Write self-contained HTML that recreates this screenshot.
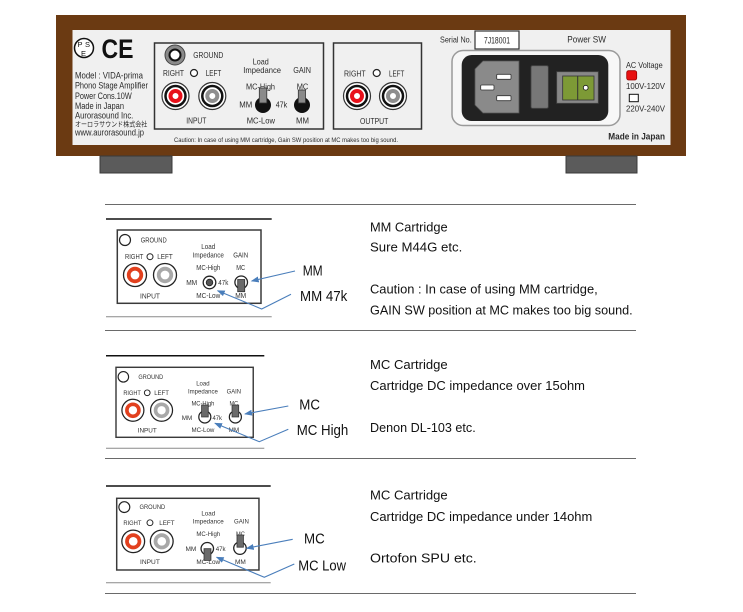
<!DOCTYPE html>
<html><head><meta charset="utf-8">
<style>
html,body{margin:0;padding:0;background:#fff;}
svg{display:block;}
text{font-family:"Liberation Sans","Noto Sans CJK JP",sans-serif;}
</style></head><body>
<svg width="743" height="612" viewBox="0 0 743 612" xmlns="http://www.w3.org/2000/svg">
<defs>
<marker id="ah" markerWidth="8" markerHeight="6" refX="7" refY="3" orient="auto" markerUnits="userSpaceOnUse">
<path d="M0,0 L8,3 L0,6 Z" fill="#4a7ebb"/>
</marker>
</defs>
<rect width="743" height="612" fill="#fff"/>

<!-- ===== DEVICE REAR PANEL ===== -->
<rect x="56" y="15" width="630" height="141" fill="#6b3a12"/>
<rect x="72.5" y="30" width="598" height="115" fill="#f0f0f0"/>
<rect x="100" y="156" width="72" height="17" fill="#5b5b5b" stroke="#3a3a3a"/>
<rect x="566" y="156" width="71" height="17" fill="#5b5b5b" stroke="#3a3a3a"/>

<!-- PSE / CE -->
<circle cx="84" cy="48" r="9.5" fill="#fff" stroke="#111" stroke-width="1.5"/>
<text x="77.5" y="47" font-size="7.5" fill="#111">P</text>
<text x="85" y="47" font-size="7.5" fill="#111">S</text>
<text x="81" y="56" font-size="7.5" fill="#111">E</text>
<text x="101.5" y="58" font-size="27" font-weight="bold" textLength="32" lengthAdjust="spacingAndGlyphs" fill="#111">CE</text>

<g fill="#2a2a2a" font-size="9">
<text x="75" y="78.5" textLength="68" lengthAdjust="spacingAndGlyphs">Model : VIDA-prima</text>
<text x="75" y="88.5" textLength="73" lengthAdjust="spacingAndGlyphs">Phono Stage Amplifier</text>
<text x="75" y="99" textLength="56.7" lengthAdjust="spacingAndGlyphs">Power Cons.10W</text>
<text x="75" y="109" textLength="49" lengthAdjust="spacingAndGlyphs">Made in Japan</text>
<text x="75" y="118.5" textLength="58.3" lengthAdjust="spacingAndGlyphs">Aurorasound Inc.</text>
<text x="75" y="126.5" font-size="7" textLength="72.3" lengthAdjust="spacingAndGlyphs">オーロラサウンド株式会社</text>
<text x="75" y="135.5" textLength="69" lengthAdjust="spacingAndGlyphs">www.aurorasound.jp</text>
</g>

<!-- INPUT box -->
<rect x="154.5" y="43" width="169" height="86" fill="none" stroke="#333" stroke-width="1.5"/>
<circle cx="175" cy="55" r="10" fill="#8a8a8a" stroke="#444" stroke-width="1"/>
<circle cx="175" cy="55" r="5.5" fill="#fff" stroke="#111" stroke-width="2"/>
<g fill="#2a2a2a" font-size="8.5">
<text x="193.3" y="58" textLength="30" lengthAdjust="spacingAndGlyphs">GROUND</text>
<text x="163" y="76" textLength="21" lengthAdjust="spacingAndGlyphs">RIGHT</text>
<text x="205.7" y="76" textLength="15.5" lengthAdjust="spacingAndGlyphs">LEFT</text>
<text x="196.3" y="123.5" text-anchor="middle" textLength="20" lengthAdjust="spacingAndGlyphs">INPUT</text>
<text x="260.8" y="64.5" text-anchor="middle" textLength="16" lengthAdjust="spacingAndGlyphs">Load</text>
<text x="243.3" y="73" textLength="37.7" lengthAdjust="spacingAndGlyphs">Impedance</text>
<text x="293.3" y="73" textLength="17.7" lengthAdjust="spacingAndGlyphs">GAIN</text>
<text x="246" y="89.7" textLength="29" lengthAdjust="spacingAndGlyphs">MC-High</text>
<text x="296.7" y="89.7" textLength="11.6" lengthAdjust="spacingAndGlyphs">MC</text>
<text x="239.3" y="107.5" textLength="13" lengthAdjust="spacingAndGlyphs">MM</text>
<text x="275.7" y="107.5" textLength="11.6" lengthAdjust="spacingAndGlyphs">47k</text>
<text x="246.7" y="123.5" textLength="28.3" lengthAdjust="spacingAndGlyphs">MC-Low</text>
<text x="296" y="123.5" textLength="13" lengthAdjust="spacingAndGlyphs">MM</text>
</g>
<circle cx="194" cy="73" r="3.5" fill="#fff" stroke="#222" stroke-width="1.2"/>
<!-- input jacks -->
<circle cx="175.5" cy="96" r="13.5" fill="#fff" stroke="#333" stroke-width="1.2"/>
<circle cx="175.5" cy="96" r="10" fill="#fff" stroke="#111" stroke-width="2.5"/>
<circle cx="175.5" cy="96" r="5" fill="#fff" stroke="#e8101a" stroke-width="4"/>
<circle cx="212.3" cy="96" r="13.5" fill="#fff" stroke="#333" stroke-width="1.2"/>
<circle cx="212.3" cy="96" r="10" fill="#fff" stroke="#111" stroke-width="2.5"/>
<circle cx="212.3" cy="96" r="5" fill="#fff" stroke="#8e8e8e" stroke-width="4"/>
<!-- knobs -->
<circle cx="263" cy="105" r="8" fill="#111"/>
<rect x="259.3" y="88" width="7.5" height="15" fill="#8a8a8a" stroke="#333" stroke-width="0.8"/>
<circle cx="302" cy="105" r="8" fill="#111"/>
<rect x="298.3" y="90" width="7.2" height="13" fill="#8a8a8a" stroke="#333" stroke-width="0.8"/>

<!-- OUTPUT box -->
<rect x="333.5" y="43" width="88" height="86" fill="none" stroke="#333" stroke-width="1.5"/>
<g fill="#2a2a2a" font-size="8.5">
<text x="344" y="76.3" textLength="21.7" lengthAdjust="spacingAndGlyphs">RIGHT</text>
<text x="389" y="76.3" textLength="15.3" lengthAdjust="spacingAndGlyphs">LEFT</text>
<text x="374.2" y="124" text-anchor="middle" textLength="28.3" lengthAdjust="spacingAndGlyphs">OUTPUT</text>
</g>
<circle cx="376.7" cy="73" r="3.5" fill="#fff" stroke="#222" stroke-width="1.2"/>
<circle cx="357" cy="96" r="13.5" fill="#fff" stroke="#333" stroke-width="1.2"/>
<circle cx="357" cy="96" r="10" fill="#fff" stroke="#111" stroke-width="2.5"/>
<circle cx="357" cy="96" r="5" fill="#fff" stroke="#e8101a" stroke-width="4"/>
<circle cx="393" cy="96" r="13.5" fill="#fff" stroke="#333" stroke-width="1.2"/>
<circle cx="393" cy="96" r="10" fill="#fff" stroke="#111" stroke-width="2.5"/>
<circle cx="393" cy="96" r="5" fill="#fff" stroke="#8e8e8e" stroke-width="4"/>

<text x="174" y="142" font-size="6" fill="#2a2a2a" textLength="224" lengthAdjust="spacingAndGlyphs">Caution: In case of using MM cartridge, Gain SW position at MC makes too big sound.</text>

<!-- serial / power -->
<text x="440" y="42.5" font-size="8.5" fill="#2a2a2a" textLength="31.7" lengthAdjust="spacingAndGlyphs">Serial No.</text>
<rect x="475" y="31" width="44" height="18" fill="#fff" stroke="#333" stroke-width="1.2"/>
<text x="497" y="43.5" font-size="9" fill="#2a2a2a" text-anchor="middle" textLength="26" lengthAdjust="spacingAndGlyphs">7J18001</text>
<text x="567.3" y="42.5" font-size="9" fill="#2a2a2a" textLength="38.7" lengthAdjust="spacingAndGlyphs">Power SW</text>

<rect x="452" y="50.5" width="168" height="75" rx="11" fill="#f7f7f7" stroke="#9a9a9a" stroke-width="1.5"/>
<rect x="461.7" y="55" width="146.6" height="66" rx="10" fill="#222"/>
<polygon points="483,61 519,61 519,113 483,113 475,105 475,69" fill="#8a8a8a" stroke="#555" stroke-width="0.8"/>
<rect x="496.7" y="74.3" width="14.3" height="5" rx="1" fill="#fff" stroke="#333" stroke-width="0.8"/>
<rect x="480.7" y="85" width="13.3" height="5" rx="1" fill="#fff" stroke="#333" stroke-width="0.8"/>
<rect x="496.7" y="95.7" width="14.3" height="5" rx="1" fill="#fff" stroke="#333" stroke-width="0.8"/>
<rect x="531" y="65.7" width="17.3" height="42.6" rx="1.5" fill="#777" stroke="#444" stroke-width="0.8"/>
<rect x="556.7" y="71.7" width="41.6" height="31.6" fill="#888" stroke="#444" stroke-width="0.8"/>
<rect x="562.7" y="76" width="31.3" height="24" fill="#7d9a36" stroke="#333" stroke-width="0.8"/>
<line x1="577.7" y1="76" x2="577.7" y2="100" stroke="#333" stroke-width="1"/>
<circle cx="585.7" cy="87.7" r="2.4" fill="#fff" stroke="#111" stroke-width="0.8"/>

<text x="626" y="68" font-size="8.5" fill="#2a2a2a" textLength="36.7" lengthAdjust="spacingAndGlyphs">AC Voltage</text>
<rect x="626.7" y="70.7" width="10" height="9.3" rx="2" fill="#e81010" stroke="#900" stroke-width="0.8"/>
<text x="626" y="89" font-size="8.5" fill="#2a2a2a" textLength="39" lengthAdjust="spacingAndGlyphs">100V-120V</text>
<rect x="629.3" y="94.3" width="9" height="7.4" fill="#fff" stroke="#111" stroke-width="1"/>
<text x="626" y="111.5" font-size="8.5" fill="#2a2a2a" textLength="39" lengthAdjust="spacingAndGlyphs">220V-240V</text>
<text x="608.3" y="139.5" font-size="9.5" font-weight="bold" fill="#2a2a2a" textLength="56.7" lengthAdjust="spacingAndGlyphs">Made in Japan</text>

<!-- ===== TABLE LINES ===== -->
<g stroke="#6a6a6a" stroke-width="1">
<line x1="105" y1="204.5" x2="636" y2="204.5"/>
<line x1="105" y1="330.5" x2="636" y2="330.5"/>
<line x1="105" y1="458.5" x2="636" y2="458.5"/>
<line x1="105" y1="593.5" x2="636" y2="593.5"/>
</g>
<g stroke="#111" stroke-width="1.5">
<line x1="106" y1="219" x2="271.7" y2="219"/>
<line x1="106" y1="355.7" x2="264.3" y2="355.7"/>
<line x1="106" y1="486" x2="270.7" y2="486"/>
</g>
<g stroke="#8a8a8a" stroke-width="1">
<line x1="106" y1="316.7" x2="271.7" y2="316.7"/>
<line x1="106" y1="448.3" x2="264.3" y2="448.3"/>
<line x1="106" y1="582.7" x2="270.7" y2="582.7"/>
</g>

<!-- ===== ROW 1 PANEL ===== -->
<g transform="translate(117.3,230)">
<rect x="0" y="0" width="143.7" height="73.3" fill="#fff" stroke="#3a3a3a" stroke-width="1.5"/>
<circle cx="7.7" cy="10" r="5.5" fill="#fff" stroke="#222" stroke-width="1.2"/>
<circle cx="32.7" cy="26.7" r="3" fill="#fff" stroke="#222" stroke-width="1"/>
<circle cx="17.7" cy="45" r="11.5" fill="#fff" stroke="#222" stroke-width="1.3"/>
<circle cx="17.7" cy="45" r="6.3" fill="#fff" stroke="#e2401e" stroke-width="3.8"/>
<circle cx="47.7" cy="45" r="11.5" fill="#fff" stroke="#222" stroke-width="1.3"/>
<circle cx="47.7" cy="45" r="6.3" fill="#fff" stroke="#a8a8a8" stroke-width="3.8"/>
<g fill="#333" font-size="7">
<text x="23.4" y="12.5" textLength="26" lengthAdjust="spacingAndGlyphs">GROUND</text>
<text x="7.7" y="29" textLength="18.3" lengthAdjust="spacingAndGlyphs">RIGHT</text>
<text x="40" y="29" textLength="15.4" lengthAdjust="spacingAndGlyphs">LEFT</text>
<text x="32.7" y="68.5" text-anchor="middle" textLength="20" lengthAdjust="spacingAndGlyphs">INPUT</text>
<text x="91" y="19" text-anchor="middle" textLength="14" lengthAdjust="spacingAndGlyphs">Load</text>
<text x="91" y="27.5" text-anchor="middle" textLength="31.3" lengthAdjust="spacingAndGlyphs">Impedance</text>
<text x="123.4" y="27.5" text-anchor="middle" textLength="15" lengthAdjust="spacingAndGlyphs">GAIN</text>
<text x="91" y="40" text-anchor="middle" textLength="24" lengthAdjust="spacingAndGlyphs">MC-High</text>
<text x="123.4" y="40" text-anchor="middle" textLength="9" lengthAdjust="spacingAndGlyphs">MC</text>
<text x="74.4" y="55" text-anchor="middle" textLength="11" lengthAdjust="spacingAndGlyphs">MM</text>
<text x="106" y="55" text-anchor="middle" textLength="10" lengthAdjust="spacingAndGlyphs">47k</text>
<text x="91" y="68" text-anchor="middle" textLength="24" lengthAdjust="spacingAndGlyphs">MC-Low</text>
<text x="123.4" y="68" text-anchor="middle" textLength="11" lengthAdjust="spacingAndGlyphs">MM</text>
</g>
<circle cx="92.2" cy="52.5" r="6.3" fill="#fff" stroke="#222" stroke-width="1.3"/>
<circle cx="92.2" cy="52.5" r="3.3" fill="#555" stroke="#222" stroke-width="0.8"/>
<circle cx="123.9" cy="52.3" r="6.3" fill="#fff" stroke="#222" stroke-width="1.3"/>
<rect x="120.4" y="49.5" width="7" height="12.2" fill="#6a6a6a" stroke="#333" stroke-width="0.8"/>
</g>

<!-- ===== ROW 2 PANEL ===== -->
<g transform="translate(116,367.3) scale(0.955)">
<rect x="0" y="0" width="143.7" height="73.3" fill="#fff" stroke="#3a3a3a" stroke-width="1.5"/>
<circle cx="7.7" cy="10" r="5.5" fill="#fff" stroke="#222" stroke-width="1.2"/>
<circle cx="32.7" cy="26.7" r="3" fill="#fff" stroke="#222" stroke-width="1"/>
<circle cx="17.7" cy="45" r="11.5" fill="#fff" stroke="#222" stroke-width="1.3"/>
<circle cx="17.7" cy="45" r="6.3" fill="#fff" stroke="#e2401e" stroke-width="3.8"/>
<circle cx="47.7" cy="45" r="11.5" fill="#fff" stroke="#222" stroke-width="1.3"/>
<circle cx="47.7" cy="45" r="6.3" fill="#fff" stroke="#a8a8a8" stroke-width="3.8"/>
<g fill="#333" font-size="7">
<text x="23.4" y="12.5" textLength="26" lengthAdjust="spacingAndGlyphs">GROUND</text>
<text x="7.7" y="29" textLength="18.3" lengthAdjust="spacingAndGlyphs">RIGHT</text>
<text x="40" y="29" textLength="15.4" lengthAdjust="spacingAndGlyphs">LEFT</text>
<text x="32.7" y="68.5" text-anchor="middle" textLength="20" lengthAdjust="spacingAndGlyphs">INPUT</text>
<text x="91" y="19" text-anchor="middle" textLength="14" lengthAdjust="spacingAndGlyphs">Load</text>
<text x="91" y="27.5" text-anchor="middle" textLength="31.3" lengthAdjust="spacingAndGlyphs">Impedance</text>
<text x="123.4" y="27.5" text-anchor="middle" textLength="15" lengthAdjust="spacingAndGlyphs">GAIN</text>
<text x="91" y="40" text-anchor="middle" textLength="24" lengthAdjust="spacingAndGlyphs">MC-High</text>
<text x="123.4" y="40" text-anchor="middle" textLength="9" lengthAdjust="spacingAndGlyphs">MC</text>
<text x="74.4" y="55" text-anchor="middle" textLength="11" lengthAdjust="spacingAndGlyphs">MM</text>
<text x="106" y="55" text-anchor="middle" textLength="10" lengthAdjust="spacingAndGlyphs">47k</text>
<text x="91" y="68" text-anchor="middle" textLength="24" lengthAdjust="spacingAndGlyphs">MC-Low</text>
<text x="123.4" y="68" text-anchor="middle" textLength="11" lengthAdjust="spacingAndGlyphs">MM</text>
</g>
<circle cx="93" cy="52" r="6.3" fill="#fff" stroke="#222" stroke-width="1.3"/>
<rect x="89.6" y="39.5" width="7" height="12.5" fill="#6a6a6a" stroke="#333" stroke-width="0.8"/>
<circle cx="125" cy="52" r="6.3" fill="#fff" stroke="#222" stroke-width="1.3"/>
<rect x="121.5" y="39.5" width="7" height="12.5" fill="#6a6a6a" stroke="#333" stroke-width="0.8"/>
</g>

<!-- ===== ROW 3 PANEL ===== -->
<g transform="translate(116.7,498.3) scale(0.99,0.978)">
<rect x="0" y="0" width="143.7" height="73.3" fill="#fff" stroke="#3a3a3a" stroke-width="1.5"/>
<circle cx="7.7" cy="9" r="5.5" fill="#fff" stroke="#222" stroke-width="1.2"/>
<circle cx="33.6" cy="25" r="3" fill="#fff" stroke="#222" stroke-width="1"/>
<circle cx="16.7" cy="44" r="11.5" fill="#fff" stroke="#222" stroke-width="1.3"/>
<circle cx="16.7" cy="44" r="6.3" fill="#fff" stroke="#e2401e" stroke-width="3.8"/>
<circle cx="45.5" cy="44" r="11.5" fill="#fff" stroke="#222" stroke-width="1.3"/>
<circle cx="45.5" cy="44" r="6.3" fill="#fff" stroke="#a8a8a8" stroke-width="3.8"/>
<g fill="#333" font-size="7">
<text x="23" y="11" textLength="26" lengthAdjust="spacingAndGlyphs">GROUND</text>
<text x="6.7" y="27.5" textLength="18.3" lengthAdjust="spacingAndGlyphs">RIGHT</text>
<text x="43" y="27.5" textLength="15.4" lengthAdjust="spacingAndGlyphs">LEFT</text>
<text x="33.6" y="67" text-anchor="middle" textLength="20" lengthAdjust="spacingAndGlyphs">INPUT</text>
<text x="92.5" y="17.5" text-anchor="middle" textLength="14" lengthAdjust="spacingAndGlyphs">Load</text>
<text x="92.5" y="26" text-anchor="middle" textLength="31.3" lengthAdjust="spacingAndGlyphs">Impedance</text>
<text x="126" y="26" text-anchor="middle" textLength="15" lengthAdjust="spacingAndGlyphs">GAIN</text>
<text x="92.5" y="38.5" text-anchor="middle" textLength="24" lengthAdjust="spacingAndGlyphs">MC-High</text>
<text x="125" y="38.5" text-anchor="middle" textLength="9" lengthAdjust="spacingAndGlyphs">MC</text>
<text x="75" y="54" text-anchor="middle" textLength="11" lengthAdjust="spacingAndGlyphs">MM</text>
<text x="105" y="54" text-anchor="middle" textLength="10" lengthAdjust="spacingAndGlyphs">47k</text>
<text x="92.5" y="67" text-anchor="middle" textLength="24" lengthAdjust="spacingAndGlyphs">MC-Low</text>
<text x="125" y="67" text-anchor="middle" textLength="11" lengthAdjust="spacingAndGlyphs">MM</text>
</g>
<circle cx="91.5" cy="51.5" r="6.3" fill="#fff" stroke="#222" stroke-width="1.3"/>
<rect x="88.2" y="51.5" width="7" height="12" fill="#6a6a6a" stroke="#333" stroke-width="0.8"/>
<circle cx="124.5" cy="51" r="6.3" fill="#fff" stroke="#222" stroke-width="1.3"/>
<rect x="121.5" y="37.5" width="6.5" height="12.5" fill="#6a6a6a" stroke="#333" stroke-width="0.8"/>
</g>

<!-- ===== ARROWS ===== -->
<g stroke="#4a7ebb" stroke-width="1.1" fill="none" marker-end="url(#ah)">
<line x1="295" y1="271" x2="251.7" y2="281"/>
<polyline points="291,294.3 261.7,309 217.7,290.7"/>
<line x1="288.3" y1="406" x2="245" y2="414"/>
<polyline points="288.3,429.3 259.3,441.7 215,423.3"/>
<line x1="292.7" y1="539.3" x2="246.7" y2="548.3"/>
<polyline points="294.3,564 264.3,577.3 216.7,557.3"/>
</g>

<!-- ===== LABELS ===== -->
<g fill="#111" font-size="14.5">
<text x="302.7" y="275.5" textLength="20" lengthAdjust="spacingAndGlyphs">MM</text>
<text x="300" y="301.2" textLength="47.3" lengthAdjust="spacingAndGlyphs">MM 47k</text>
<text x="299.3" y="409.3" textLength="20.7" lengthAdjust="spacingAndGlyphs">MC</text>
<text x="296.7" y="435" textLength="51.6" lengthAdjust="spacingAndGlyphs">MC High</text>
<text x="304" y="543.3" textLength="20.7" lengthAdjust="spacingAndGlyphs">MC</text>
<text x="298.3" y="570.7" textLength="47.7" lengthAdjust="spacingAndGlyphs">MC Low</text>
</g>

<!-- ===== DESCRIPTIONS ===== -->
<g fill="#111" font-size="13">
<text x="370" y="231.5" textLength="77.7" lengthAdjust="spacingAndGlyphs">MM Cartridge</text>
<text x="370" y="251.5" textLength="92.3" lengthAdjust="spacingAndGlyphs">Sure M44G etc.</text>
<text x="370" y="293.5" textLength="227.7" lengthAdjust="spacingAndGlyphs">Caution :  In case of using MM cartridge,</text>
<text x="370" y="314.5" textLength="262.7" lengthAdjust="spacingAndGlyphs">GAIN SW position at MC makes too big sound.</text>

<text x="370" y="369" textLength="77.7" lengthAdjust="spacingAndGlyphs">MC Cartridge</text>
<text x="370" y="390" textLength="215" lengthAdjust="spacingAndGlyphs">Cartridge DC impedance over 15ohm</text>
<text x="370" y="432" textLength="105.7" lengthAdjust="spacingAndGlyphs">Denon DL-103 etc.</text>

<text x="370" y="499.5" textLength="77.7" lengthAdjust="spacingAndGlyphs">MC Cartridge</text>
<text x="370" y="521" textLength="222.3" lengthAdjust="spacingAndGlyphs">Cartridge DC impedance under 14ohm</text>
<text x="370" y="562.5" textLength="106.7" lengthAdjust="spacingAndGlyphs">Ortofon  SPU etc.</text>
</g>
</svg>
</body></html>
